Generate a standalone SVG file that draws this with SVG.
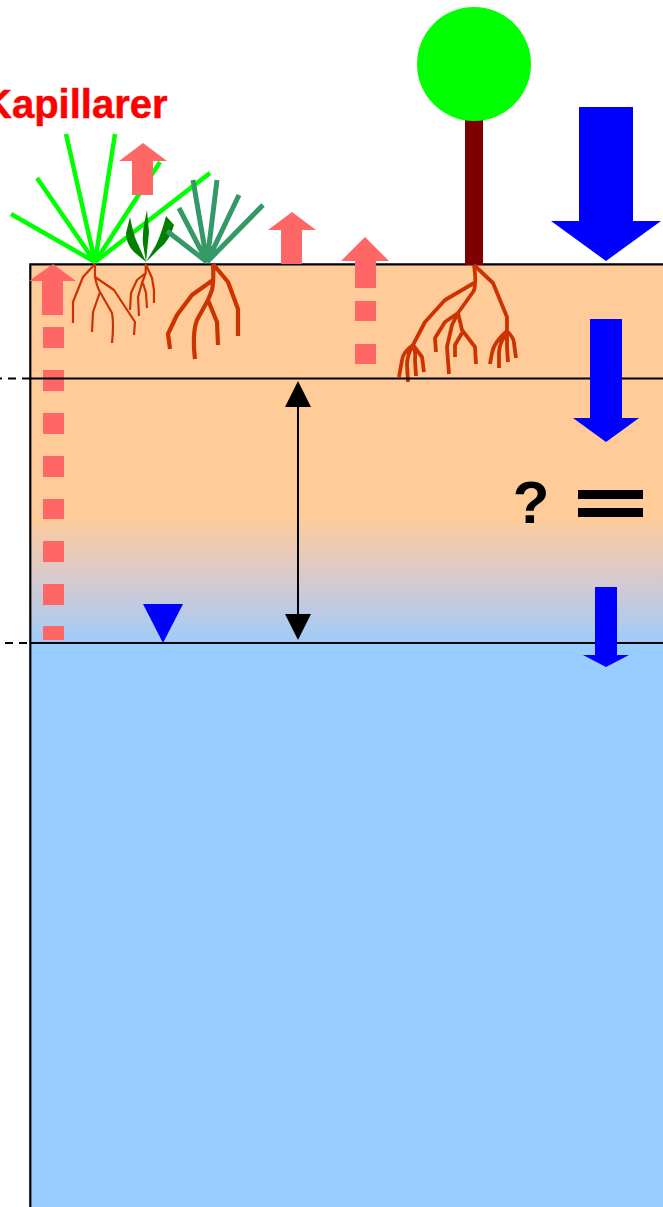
<svg xmlns="http://www.w3.org/2000/svg" width="663" height="1207" viewBox="0 0 663 1207">
  <style>
    .up { fill: #FF6666; }
    .down { fill: #0000FF; }
    .level { stroke: #000; stroke-width: 1.8; fill: none; }
    .dash { stroke: #000; stroke-width: 1.8; stroke-dasharray: 8 6; fill: none; }
    .root { stroke: #CC3300; fill: none; stroke-linejoin: round; }
    .blade { fill: none; stroke-linecap: butt; }
    text { font-family: "Liberation Sans", Arial, sans-serif; font-weight: bold; }
  </style>
  <defs>
    <linearGradient id="fringe" gradientUnits="userSpaceOnUse" x1="0" y1="515" x2="0" y2="650">
      <stop offset="0" stop-color="#FFCC99"/>
      <stop offset="0.5" stop-color="#D5C9D0"/>
      <stop offset="1" stop-color="#99CCFF"/>
    </linearGradient>
  </defs>
  <rect width="663" height="1207" fill="#fff"/>

  <g id="ground">
    <rect x="30" y="264" width="633" height="259" fill="#FFCC99"/>
    <rect x="30" y="523" width="633" height="120" fill="url(#fringe)"/>
    <rect x="30" y="643" width="633" height="564" fill="#99CCFF"/>
    <path d="M30.300 1207V264.300H663" fill="none" stroke="#000" stroke-width="2.200"/>
  </g>

  <g id="tree">
    <rect x="465" y="118" width="18" height="147" fill="#7F0000"/>
    <circle cx="474" cy="64" r="57" fill="#00FF00"/>
    <g class="root" stroke-width="3.800">
      <path d="M474 265L493 283L507 317V331Q494 342 492 353L490 364M507 333Q499 343 499 353V368M507 333V347L508 362M507 331Q514 338 514 343L516 358"/>
      <path d="M474 265Q476 280 475 283Q475 289 473 292L458 313M474 283L445 300L425 322L413 345Q403 352 402 360L399 377M413 345Q407 355 407 365L408 382M413 345Q416 352 415 360L416 376M413 345L422 357L424 372"/>
      <path d="M458 313L445 322L435 338L436 352M458 313L452 325L447 347L449 374M458 313L462 330L475 347L476 364M462 333L455 345V357"/>
    </g>
  </g>

  <g id="grass-bright">
    <path class="blade" stroke="#00FF00" stroke-width="4.500" d="M95 262L11 214M95 262L37 178M95 262L66 134M95 262L115 134M95 262L160 162M95 262L210 173"/>
    <g class="root" stroke-width="2.200">
      <path d="M95 264L83 277L73 302V323M95 264V277Q97 287 100 292L112 313Q114 323 112 343M100 292L93 312L92 332M95 277L114 290L135 322L134 335"/>
    </g>
  </g>

  <g id="grass-dark">
    <path fill="#007F00" d="M146 262L134 252Q126 244 126 233L130 217Q133 232 136 240ZM146 262L143 244Q142 232 145 220L147 210L149 232ZM146 262L160 248Q170 240 174 225L166 216Q162 232 156 245Z"/>
    <g class="root" stroke-width="2.200">
      <path d="M145.700 264V273L142 283L138 297L139 316M145.700 273L137 280L131 293L130 310M145.700 264L152 278L154 290V303M143 283L146 293L147 308"/>
    </g>
  </g>

  <g id="grass-teal">
    <path class="blade" stroke="#339966" stroke-width="5" d="M207 262L167 231M207 262L179 208M207 262L193 180M207 262L217 180M207 262L239 195M207 262L263 205"/>
    <g class="root" stroke-width="4.200">
      <path d="M213 264L228 282L238 309V336M213 264Q214 280 212 290L208 300L197 320Q192 333 195 359M213 280L192 295L177 315L168 334L170 349M208 300L217 322L218 345"/>
    </g>
  </g>

  <g id="capillary-arrows">
    <path class="up" d="M143 143L167 161H153V195H132V161H119Z"/>
    <path class="up" d="M292 212L316 230H302V264H281V230H268Z"/>
    <path class="up" d="M365 237L389 261H376V288H355V261H341Z"/>
    <rect class="up" x="355" y="301" width="21" height="20"/>
    <rect class="up" x="355" y="344" width="21" height="20"/>
    <path class="up" d="M53 264L76 281H63V315H42V281H29Z"/>
    <rect class="up" x="43" y="327" width="21" height="21"/>
    <rect class="up" x="43" y="370" width="21" height="21"/>
    <rect class="up" x="43" y="413" width="21" height="21"/>
    <rect class="up" x="43" y="456" width="21" height="21"/>
    <rect class="up" x="43" y="499" width="21" height="20"/>
    <rect class="up" x="43" y="541" width="21" height="21"/>
    <rect class="up" x="43" y="584" width="21" height="21"/>
    <rect class="up" x="43" y="626" width="21" height="14"/>
  </g>

  <g id="levels">
    <path class="level" d="M30 378.500H663"/>
    <path class="dash" d="M-6 378.500H30"/>
    <path class="level" d="M30 643H663"/>
    <path class="dash" d="M5 643H41"/>
  </g>

  <g id="recharge-arrows">
    <path class="down" d="M579 107H633V221H661L606 261L551 221H579Z"/>
    <path class="down" d="M590 319H622V418H639L606 442L573 418H590Z"/>
    <path class="down" d="M595 587H617V655H629L606 667L583 655H595Z"/>
  </g>

  <g id="water-table-mark">
    <path class="down" d="M143 604H183L163 643Z"/>
  </g>

  <g id="depth-arrow">
    <path d="M298 400V618" stroke="#000" stroke-width="2" fill="none"/>
    <path d="M298 381L311 407H285ZM298 640L285 614H311Z"/>
  </g>

  <g id="equal-sign">
    <rect x="578" y="490" width="65" height="9"/>
    <rect x="578" y="508" width="65" height="9"/>
  </g>

  <g id="labels">
    <text x="-17" y="118" font-size="40" fill="#FF0000" stroke="#FF0000" stroke-width="0.5">Kapillarer</text>
    <text x="531" y="523" font-size="60" text-anchor="middle" fill="#000">?</text>
  </g>
</svg>
